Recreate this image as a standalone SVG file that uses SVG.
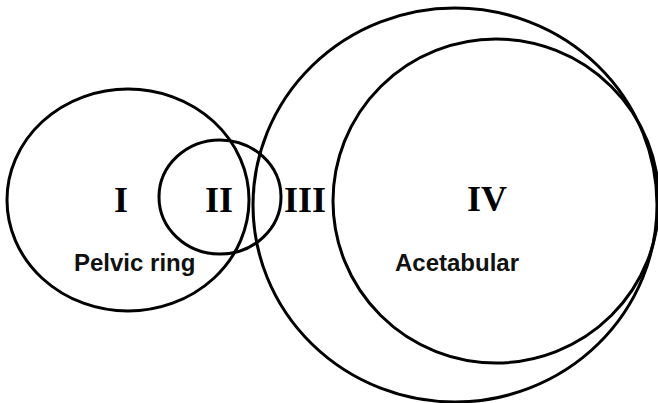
<svg xmlns="http://www.w3.org/2000/svg" width="658" height="403" viewBox="0 0 658 403">
<style>
.c{fill:none;stroke:#000;stroke-width:3}
.r{font-family:"Liberation Serif",serif;font-weight:bold;font-size:36px;fill:#000;text-anchor:middle}
.l{font-family:"Liberation Sans",Arial,sans-serif;font-weight:bold;font-size:24px;fill:#111}
</style>
<rect width="658" height="403" fill="#fff"/>
<g id="zone-I"><ellipse class="c" cx="128" cy="200" rx="121" ry="111"/><text class="r" x="121" y="212">I</text></g>
<g id="zone-II"><ellipse class="c" cx="220" cy="197" rx="61" ry="57"/><text class="r" x="219" y="212">II</text></g>
<g id="zone-III"><ellipse class="c" cx="455" cy="205" rx="202" ry="197"/><text class="r" x="305" y="212">III</text></g>
<g id="zone-IV"><ellipse class="c" cx="496" cy="201" rx="163" ry="162"/><text class="r" x="487" y="211">IV</text></g>
<g id="labels"><text class="l" x="74" y="271">Pelvic ring</text><text class="l" x="395" y="271">Acetabular</text></g>
<g id="connectors"/>
</svg>
